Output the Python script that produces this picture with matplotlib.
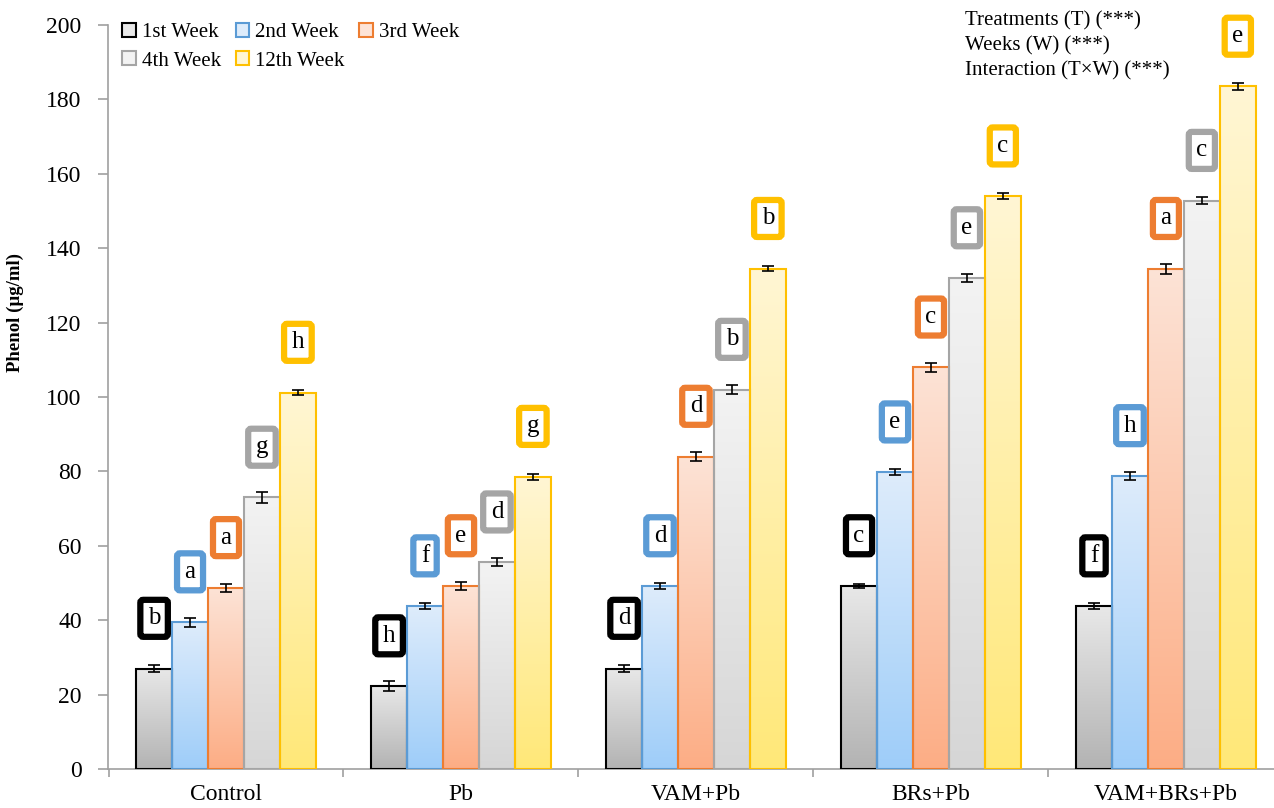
import numpy as np
import matplotlib

matplotlib.use("Agg")
import matplotlib.pyplot as plt
from matplotlib.colors import LinearSegmentedColormap
from matplotlib.patches import Patch

plt.rcParams["font.family"] = ["Liberation Serif", "DejaVu Serif"]

categories = ["Control", "Pb", "VAM+Pb", "BRs+Pb", "VAM+BRs+Pb"]
weeks = ["1st Week", "2nd Week", "3rd Week", "4th Week", "12th Week"]

week1 = [27.0, 22.3, 27.0, 49.2, 43.8]
week2 = [39.5, 43.8, 49.2, 79.8, 78.8]
week3 = [48.7, 49.2, 84.0, 108.0, 134.5]
week4 = [73.0, 55.6, 102.0, 132.0, 152.8]
week12 = [101.2, 78.6, 134.5, 154.0, 183.5]

err1 = [1.0, 1.3, 0.9, 0.6, 0.9]
err2 = [1.2, 0.9, 0.8, 0.8, 1.0]
err3 = [1.1, 1.1, 1.2, 1.2, 1.3]
err4 = [1.4, 1.1, 1.2, 1.1, 1.0]
err12 = [0.7, 0.8, 0.7, 0.8, 1.0]

letters1 = ["b", "h", "d", "c", "f"]
letters2 = ["a", "f", "d", "e", "h"]
letters3 = ["a", "e", "d", "c", "a"]
letters4 = ["g", "d", "b", "e", "c"]
letters12 = ["h", "g", "b", "c", "e"]

stats_text = ["Treatments (T) (***)", "Weeks (W) (***)", "Interaction (T\u00d7W) (***)"]

series = [week1, week2, week3, week4, week12]
errors = [err1, err2, err3, err4, err12]
letters = [letters1, letters2, letters3, letters4, letters12]

edge_colors = ["#000000", "#5b9bd5", "#ed7d31", "#a5a5a5", "#ffc000"]
box_colors = ["#000000", "#5b9bd5", "#ed7d31", "#a5a5a5", "#ffc000"]
grad_top = ["#e8e8e8", "#deecfb", "#fde3d6", "#f3f3f3", "#fff6d4"]
grad_bottom = ["#b3b3b3", "#9ecdf9", "#fcad85", "#d6d6d6", "#ffe878"]

fig = plt.figure(figsize=(12.74, 8.08), dpi=100)
ax = fig.add_axes([0.0848, 0.0483, 0.9152, 0.9207])

x = np.arange(len(categories))
width = 0.153
offsets = (np.arange(5) - 2) * width
grad = np.linspace(1, 0, 256).reshape(-1, 1)

for i in range(5):
    cmap = LinearSegmentedColormap.from_list(f"g{i}", [grad_bottom[i], grad_top[i]])
    bars = ax.bar(x + offsets[i], series[i], width, facecolor="none",
                  edgecolor=edge_colors[i], linewidth=1.5, zorder=3)
    for b in bars:
        x0, w, h = b.get_x(), b.get_width(), b.get_height()
        ax.imshow(grad, cmap=cmap, extent=[x0, x0 + w, 0, h], aspect="auto",
                  zorder=2, interpolation="bicubic", vmin=0, vmax=1)
    ax.errorbar(x + offsets[i], series[i], yerr=errors[i], fmt="none",
                ecolor="black", elinewidth=1.2, capsize=4, capthick=1.2, zorder=4)
    for j in range(5):
        ax.text(x[j] + offsets[i], series[i][j] + 13.5, letters[i][j], ha="center",
                va="center", fontsize=18, zorder=5, clip_on=False,
                bbox=dict(boxstyle="round,pad=0.3,rounding_size=0.12", fc="white",
                          ec=box_colors[i], lw=4.5))

ax.set_xlim(-0.502, 4.46)
ax.set_ylim(0, 200)
ax.set_yticks(np.arange(0, 201, 20))
ax.set_xticks(x)
ax.set_xticklabels(categories)
ax.set_xticks(np.arange(-0.5, 4.5, 1), minor=True)
ax.tick_params(axis="x", which="major", length=0, labelsize=17, pad=11)
ax.tick_params(axis="x", which="minor", length=6, color="#a0a0a0", width=1.2)
ax.tick_params(axis="y", length=7, color="#a0a0a0", width=1.2, labelsize=17, pad=12)
for s in ["top", "right"]:
    ax.spines[s].set_visible(False)
for s in ["left", "bottom"]:
    ax.spines[s].set_color("#a0a0a0")
    ax.spines[s].set_linewidth(1.2)
ax.set_ylabel("Phenol (\u00b5g/ml)", fontsize=13.5, fontweight="bold")
ax.yaxis.set_label_coords(-0.072, (769 - 312) / 744)

order = [0, 3, 1, 4, 2]
handles = [Patch(facecolor=grad_top[i], edgecolor=edge_colors[i], linewidth=1.5)
           for i in order]
ax.legend(handles, [weeks[i] for i in order], ncol=3, loc="upper left",
          bbox_to_anchor=(0.012, 1.003), frameon=False, fontsize=15,
          handlelength=0.65, handleheight=0.65, handletextpad=0.3,
          columnspacing=0.7, labelspacing=0.45, borderaxespad=0, borderpad=0)

for k, line in enumerate(stats_text):
    fig.text(965 / 1274, 1 - (21 + 25 * k) / 808, line, fontsize=15,
             ha="left", va="center")

fig.savefig("out.png", dpi=100)
